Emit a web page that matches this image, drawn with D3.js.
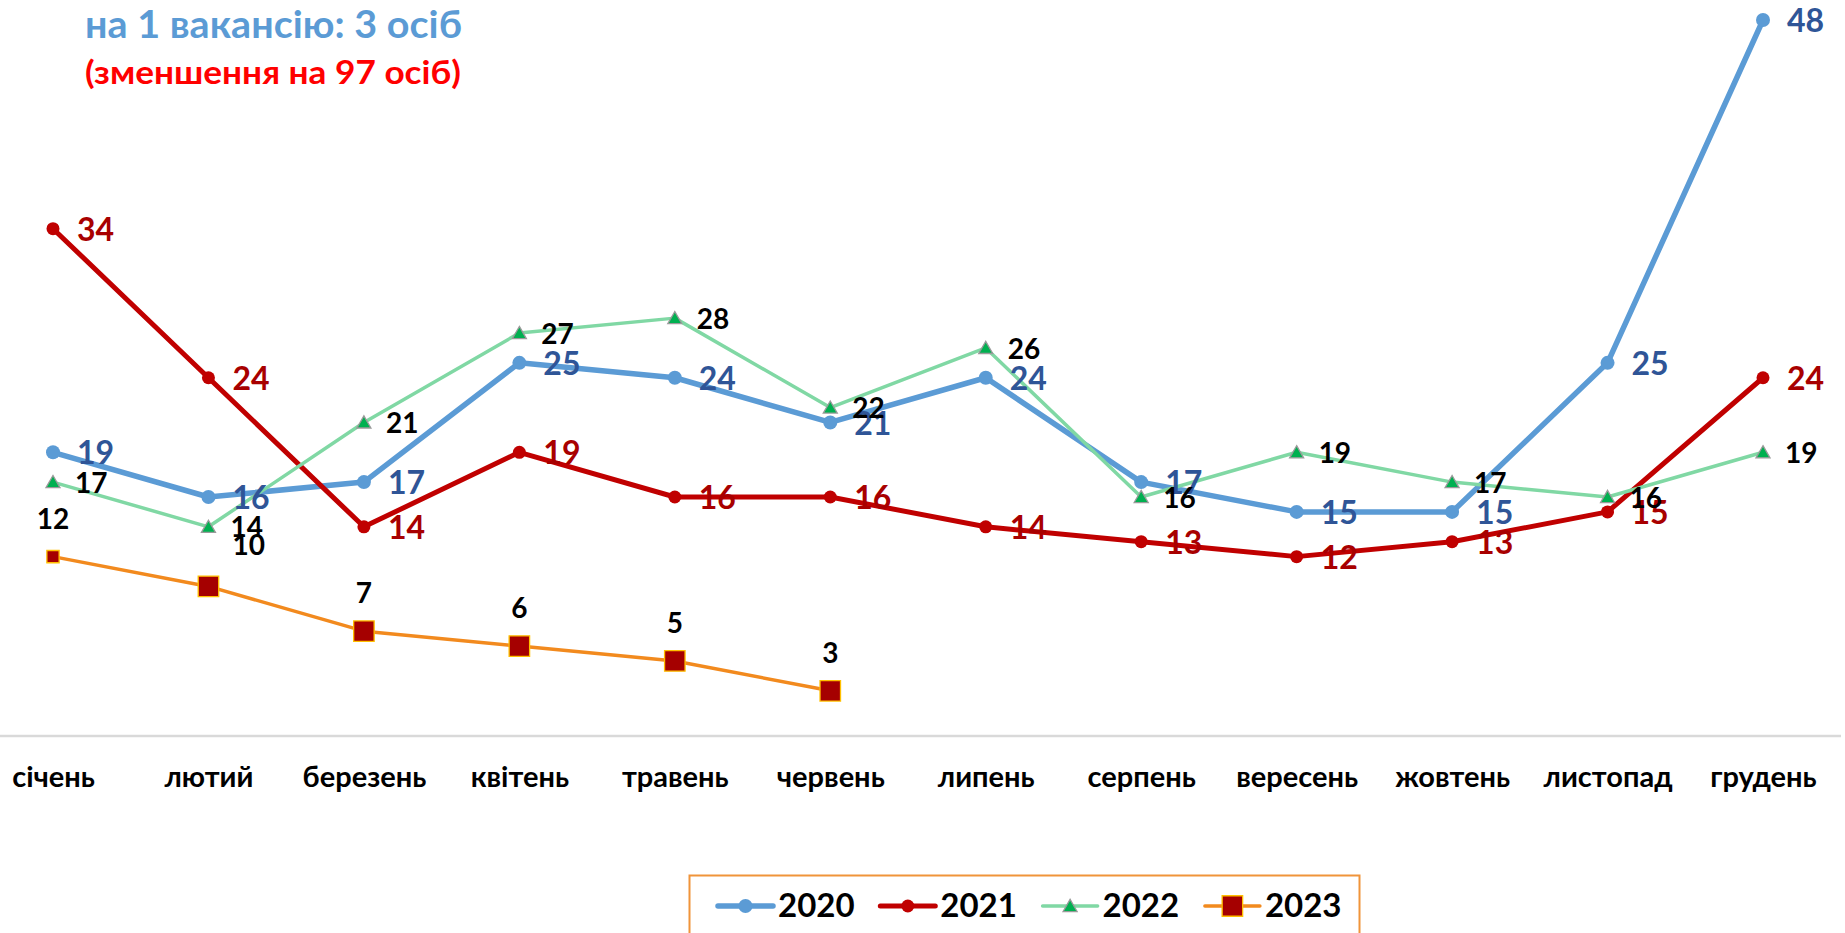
<!DOCTYPE html>
<html>
<head>
<meta charset="utf-8">
<script src="https://cdn.jsdelivr.net/npm/d3@7"></script>
<style>
  html, body { margin: 0; padding: 0; background: #ffffff; }
  svg { display: block; }
  text { font-family: Lato, "Noto Sans", "DejaVu Sans", sans-serif; font-weight: 700; }
</style>
</head>
<body>
<svg id="chart" width="1845" height="933"></svg>
<script>
// ---- data ----
const months = ["січень","лютий","березень","квітень","травень","червень","липень","серпень","вересень","жовтень","листопад","грудень"];
const years = ["2020","2021","2022","2023"];
const values2020 = [19,16,17,25,24,21,24,17,15,15,25,48];
const values2021 = [34,24,14,19,16,16,14,13,12,13,15,24];
const values2022 = [17,14,21,27,28,22,26,16,19,17,16,19];
const values2023 = [12,10,7,6,5,3];
const titleLine1 = "на 1 вакансію: 3 осіб";
const titleLine2 = "(зменшення на 97 осіб)";

// ---- styles ----
const styles = {
  "2020": {line: "#5b9bd5", width: 5.5, marker: "circle", r: 7, fill: "#5b9bd5", stroke: "none", label: "#2f5597", fs: 32, pos: "right"},
  "2021": {line: "#c00000", width: 5, marker: "circle", r: 6.5, fill: "#c00000", stroke: "none", label: "#a80000", fs: 32, pos: "right"},
  "2022": {line: "#80d8a4", width: 3.5, marker: "triangle", size: 85, fill: "#00b050", stroke: "#9a9a9a", label: "#000000", fs: 28, pos: "right"},
  "2023": {line: "#f28a1e", width: 3.5, marker: "square", size: 420, fill: "#a50000", stroke: "#ffc000", label: "#000000", fs: 28, pos: "above"}
};
const seriesData = {"2020": values2020, "2021": values2021, "2022": values2022, "2023": values2023};

const svg = d3.select("#chart");
const W = 1845, H = 933;
svg.append("rect").attr("width", W).attr("height", H).attr("fill", "#ffffff");

const x = d3.scalePoint().domain(months).range([53, 1763]);
const y = d3.scaleLinear().domain([0, 48]).range([735.5, 20]);

// category axis
const xAxis = d3.axisBottom(x).tickSize(0).tickPadding(0);
const gx = svg.append("g").attr("transform", `translate(0,${y(0)})`).call(xAxis);
gx.select(".domain").remove();
svg.append("line")
  .attr("x1", 0).attr("x2", 1841)
  .attr("y1", y(0) + 0.5).attr("y2", y(0) + 0.5)
  .attr("stroke", "#d9d9d9").attr("stroke-width", 2.5);
gx.selectAll(".tick text")
  .attr("y", 51).attr("dy", 0)
  .attr("fill", "#000000")
  .style("font-size", "29px")
  .style("font-family", "Lato, 'Noto Sans', sans-serif")
  .style("font-weight", 700);

// titles
svg.append("text").attr("x", 85).attr("y", 38)
  .attr("fill", "#5b9bd5").style("font-size", "38px")
  .attr("textLength", 377).attr("lengthAdjust", "spacingAndGlyphs")
  .text(titleLine1);
svg.append("text").attr("x", 85).attr("y", 84)
  .attr("fill", "#ff0000").style("font-size", "33px")
  .attr("textLength", 376).attr("lengthAdjust", "spacingAndGlyphs")
  .text(titleLine2);

const lineGen = d3.line().x(d => x(d.m)).y(d => y(d.v));

function markerPath(st, i) {
  if (st.marker === "triangle") return d3.symbol(d3.symbolTriangle, st.size)();
  if (st.marker === "square") return d3.symbol(d3.symbolSquare, i === 0 ? 150 : st.size)();
  return null;
}

const gLines = svg.append("g");
years.forEach(yr => {
  const st = styles[yr];
  const pts = seriesData[yr].map((v, i) => ({m: months[i], v, i}));
  const g = gLines.append("g");
  g.append("path").datum(pts)
    .attr("d", lineGen)
    .attr("fill", "none")
    .attr("stroke", st.line)
    .attr("stroke-width", st.width)
    .attr("stroke-linejoin", "round")
    .attr("stroke-linecap", "round");
  if (st.marker === "circle") {
    g.selectAll("circle").data(pts).join("circle")
      .attr("cx", d => x(d.m)).attr("cy", d => y(d.v)).attr("r", st.r)
      .attr("fill", st.fill);
  } else {
    g.selectAll("path.mk").data(pts).join("path")
      .attr("class", "mk")
      .attr("transform", d => `translate(${x(d.m)},${y(d.v) + (st.marker === "triangle" ? 1.5 : 0)})`)
      .attr("d", d => markerPath(st, d.i))
      .attr("fill", st.fill)
      .attr("stroke", st.stroke)
      .attr("stroke-width", 1.3);
  }
});

// data labels
const gLabels = svg.append("g");
years.forEach(yr => {
  const st = styles[yr];
  const pts = seriesData[yr].map((v, i) => ({m: months[i], v, i}));
  gLabels.selectAll(null).data(pts).join("text")
    .attr("x", d => {
      if (st.pos === "right") return x(d.m) + (st.fs > 30 ? 24 : 22);
      if (d.i === 1) return x(d.m) + 24;
      return x(d.m);
    })
    .attr("y", d => {
      if (st.pos === "right") return y(d.v) + st.fs * 0.38;
      if (d.i === 1) return y(d.v) - 42 + st.fs * 0.36;
      return y(d.v) - 38 + st.fs * 0.36;
    })
    .attr("text-anchor", d => (st.pos === "above" && d.i !== 1) ? "middle" : "start")
    .attr("fill", st.label)
    .style("font-size", st.fs + "px")
    .text(d => d.v);
});

// legend
const lg = svg.append("g");
lg.append("rect")
  .attr("x", 689.5).attr("y", 875.5).attr("width", 670).attr("height", 90)
  .attr("fill", "#ffffff").attr("stroke", "#f0943a").attr("stroke-width", 2);
years.forEach((yr, k) => {
  const st = styles[yr];
  const x0 = 718 + k * 162.3, cy = 906;
  const it = lg.append("g");
  it.append("line").attr("x1", x0).attr("x2", x0 + 55).attr("y1", cy).attr("y2", cy)
    .attr("stroke", st.line).attr("stroke-width", st.width).attr("stroke-linecap", "round");
  if (st.marker === "circle") {
    it.append("circle").attr("cx", x0 + 27.5).attr("cy", cy).attr("r", st.r).attr("fill", st.fill);
  } else {
    it.append("path").attr("transform", `translate(${x0 + 27.5},${cy + (st.marker === "triangle" ? 1.5 : 0)})`)
      .attr("d", markerPath(st, 1))
      .attr("fill", st.fill).attr("stroke", st.stroke).attr("stroke-width", 1.3);
  }
  it.append("text").attr("x", x0 + 60).attr("y", 917)
    .attr("fill", "#000000").style("font-size", "33px")
    .text(yr);
});
</script>
</body>
</html>
